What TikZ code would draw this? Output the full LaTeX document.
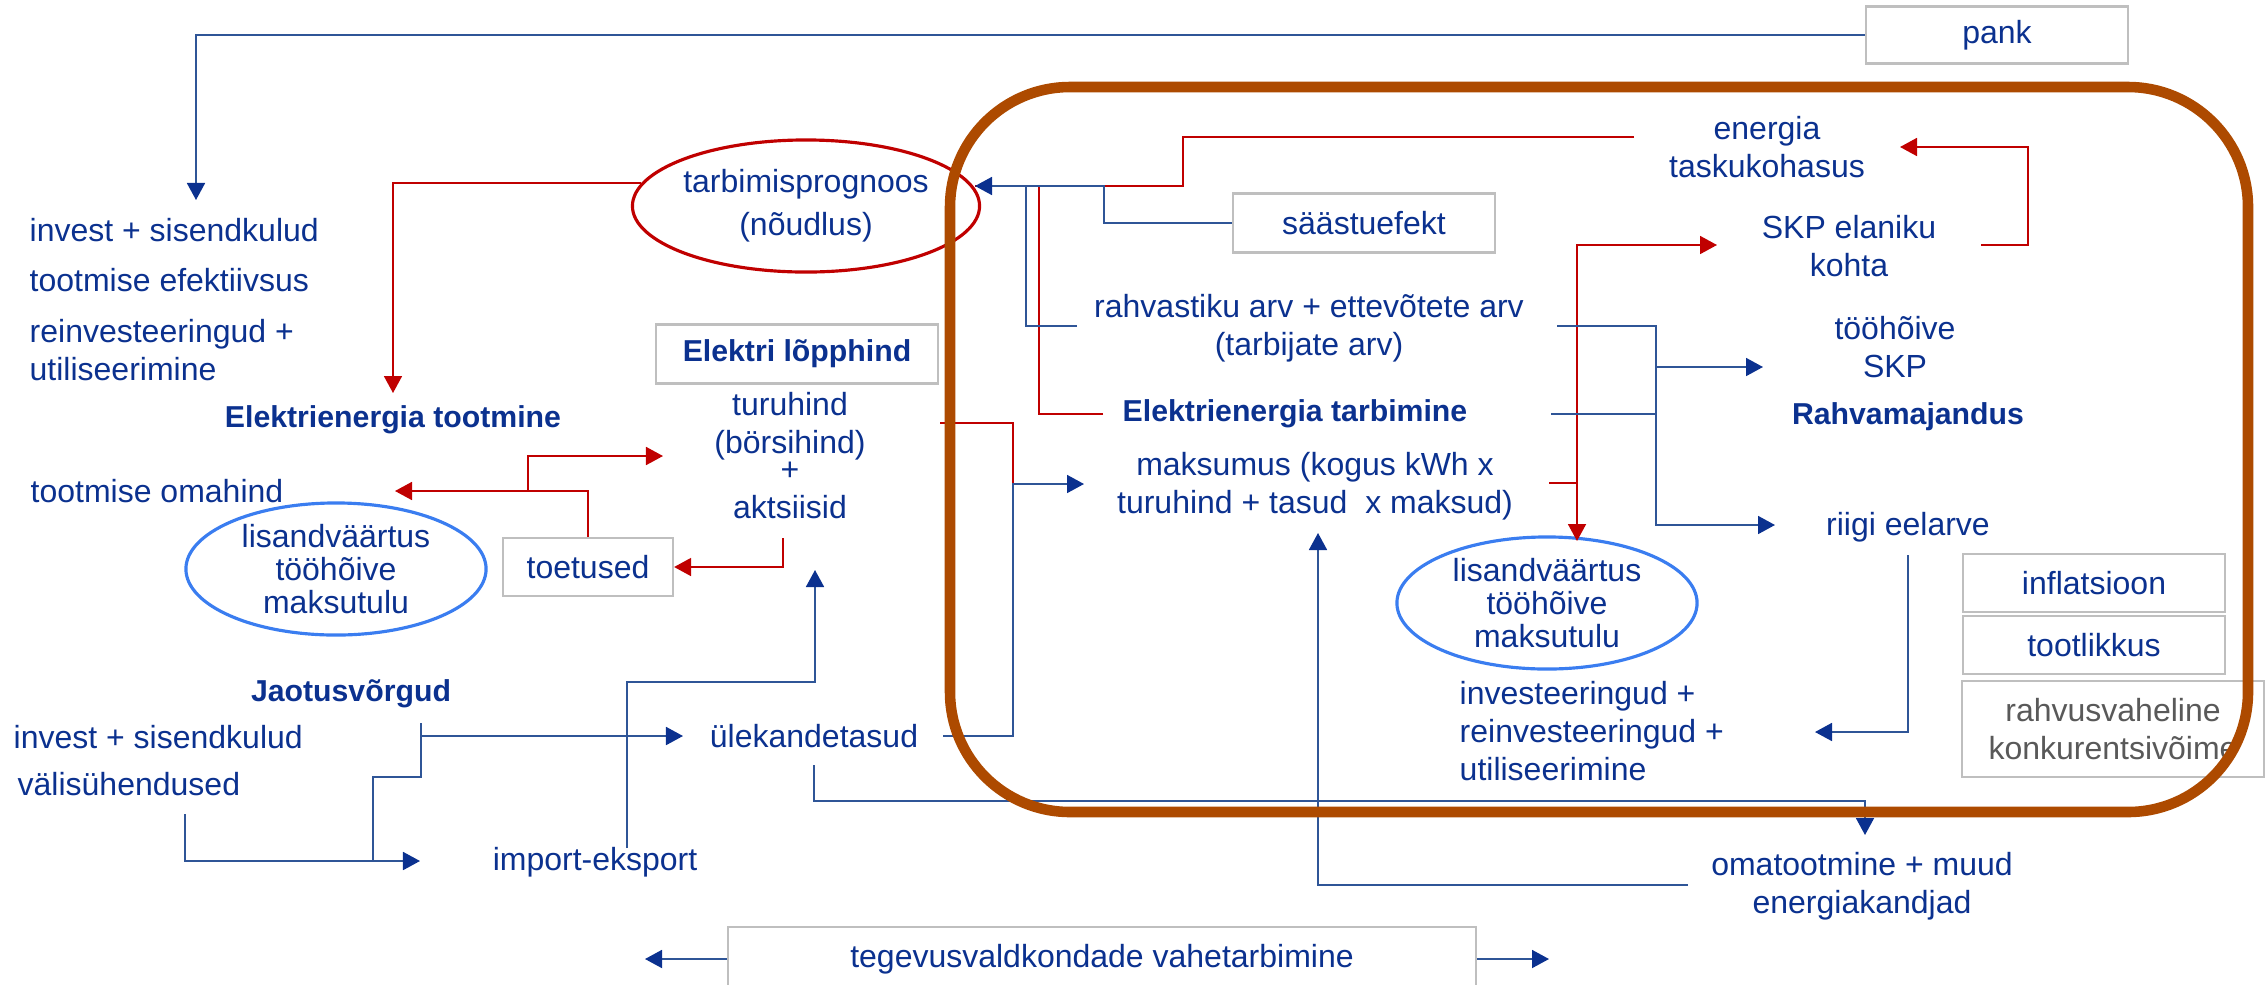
\documentclass[tikz,border=0pt]{standalone}
\usepackage{fontspec}
\setmainfont{Liberation Sans}
\usetikzlibrary{arrows.meta,shapes.geometric}
\definecolor{tblue}{HTML}{0B318F}
\definecolor{lblue}{HTML}{2F5597}
\definecolor{lred}{HTML}{C00000}
\definecolor{cblue}{HTML}{3A7DF0}
\definecolor{brownframe}{HTML}{AD4A00}
\definecolor{gline}{HTML}{BFBFBF}
\definecolor{gtext}{HTML}{595959}

\begin{document}
\begin{tikzpicture}[x=0.01cm, y=-0.01cm,
    every node/.style={font=\fontsize{9.1}{10.8}\selectfont, text=tblue, align=center, inner sep=0pt},
    hd/.style={font=\fontsize{8.6}{10.8}\selectfont\bfseries},
    gbox/.style={draw=gline, line width=0.6pt, fill=white},
    oval/.style={ellipse, line width=0.9pt, minimum width=3cm, minimum height=1.32cm},
    bl/.style={draw=lblue, line width=0.5pt},
    rl/.style={draw=lred, line width=0.5pt},
    ba/.style={bl, -{Triangle[length=1.7mm, width=1.8mm, color=tblue]}},
    ra/.style={rl, -{Triangle[length=1.7mm, width=1.8mm]}}]
            \useasboundingbox (0,0) rectangle (2266,984);

            \node[gbox, minimum width=2.62cm, minimum height=0.57cm] (pank) at (1997,35) {pank};
            \node[oval, draw=lred, font=\fontsize{9.1}{12.2}\selectfont] (tarb) at (806,206) {tarbimisprognoos\\(nõudlus)};
            \node[gbox, minimum width=2.62cm, minimum height=0.59cm] (saast) at (1364,223) {säästuefekt};
            \node (energia) at (1767,147) {energia\\taskukohasus};
            \node (skpel) at (1849,246) {SKP elaniku\\kohta};
            \node (rahv) at (1309,328) {rahvastiku arv + ettevõtete arv\\(tarbijate arv)};
            \node (tooh) at (1895,347) {tööhõive\\SKP};
            \node[hd] (rmaj) at (1908,417) {Rahvamajandus};
            \node[hd] (tarbimine) at (1295,414) {Elektrienergia tarbimine};
            \node (maks) at (1315,486) {maksumus (kogus kWh x\\turuhind + tasud\ \ x maksud)};
            \node (riigi) at (1908,527) {riigi eelarve};
            \node[oval, draw=cblue, font=\fontsize{9.1}{9.5}\selectfont] (lis2) at (1547,603) {lisandväärtus\\tööhõive\\maksutulu};
            \node[anchor=west, align=left] (invest2) at (1459,731) {investeeringud +\\reinvesteeringud +\\utiliseerimine};
            \node[gbox, minimum width=2.62cm, minimum height=0.58cm] (infl) at (2094,583) {inflatsioon};
            \node[gbox, minimum width=2.62cm, minimum height=0.58cm] (tootl) at (2094,645) {tootlikkus};
            \node[gbox, minimum width=3.01cm, minimum height=0.96cm, text=gtext] (konk) at (2113,729) {rahvusvaheline\\konkurentsivõime};

            \node[gbox, hd, minimum width=2.82cm, minimum height=0.59cm] (lopp) at (797,354) {Elektri lõpphind};
            \node (turu) at (790,456) {turuhind\\(börsihind)\\[-3.1pt]+\\aktsiisid};
            \node[gbox, minimum width=1.7cm, minimum height=0.58cm] (toet) at (588,567) {toetused};
            \node[anchor=west] (omahind) at (30,491) {tootmise omahind};
            \node[oval, draw=cblue, font=\fontsize{9.1}{9.5}\selectfont] (lis1) at (336,569) {lisandväärtus\\tööhõive\\maksutulu};
            \node[hd] (tootmine) at (393,420) {Elektrienergia tootmine};
            \node[anchor=west] (invest1) at (29,230) {invest + sisendkulud};
            \node[anchor=west] (efekt) at (29,280) {tootmise efektiivsus};
            \node[anchor=west, align=left] (reinv) at (29,350) {reinvesteeringud +\\utiliseerimine};
            \node[hd] (jaotus) at (351,694) {Jaotusvõrgud};
            \node[anchor=west] (invest3) at (13,737) {invest + sisendkulud};
            \node[anchor=west] (valis) at (17,784) {välisühendused};
            \node (import) at (595,862) {import-eksport};
            \node (ulek) at (814,736) {ülekandetasud};
            \node (omat) at (1862,886) {omatootmine + muud\\energiakandjad};
            \node[gbox, minimum width=7.48cm, minimum height=0.64cm] (vahe) at (1102,959) {tegevusvaldkondade vahetarbimine};

            \coordinate (pankT) at (196,200);
            \coordinate (tootT) at (393,393);
            \coordinate (tarbT) at (975,186);
            \coordinate (enL) at (1634,137);
            \coordinate (tbL) at (1103,414);
            \coordinate (rvL) at (1077,326);
            \coordinate (skR) at (1981,245);
            \coordinate (enT) at (1900,147);
            \coordinate (mkR) at (1549,483);
            \coordinate (skT) at (1717,245);
            \coordinate (lisT) at (1577,541);
            \coordinate (rvR) at (1557,326);
            \coordinate (tbR) at (1551,414);
            \coordinate (toohT) at (1763,367);
            \coordinate (riigiT) at (1775,525);
            \coordinate (tuR) at (940,423);
            \coordinate (ulR) at (943,736);
            \coordinate (mkT) at (1084,484);
            \coordinate (omL) at (1688,885);
            \coordinate (mkB) at (1318,533);
            \coordinate (riB) at (1908,555);
            \coordinate (ivT) at (1815,732);
            \coordinate (tuB) at (783,538);
            \coordinate (omT) at (395,491);
            \coordinate (tuT) at (663,456);
            \coordinate (jvR) at (421,723);
            \coordinate (ulT) at (683,736);
            \coordinate (vsB) at (185,814);
            \coordinate (imT) at (420,861);
            \coordinate (imU) at (627,848);
            \coordinate (tuU) at (815,570);
            \coordinate (ulB) at (814,765);
            \coordinate (omT2) at (1865,835);
            \coordinate (vhL) at (645,959);
            \coordinate (vhR) at (1549,959);

            \draw[ba] (pank.west) -| (pankT);
            \draw[ra] (tarb.172) -| (tootT);

            \draw[rl] (enL) -- (1183,137) |- (tarbT);
            \draw[rl] (tbL) -| (1039,186);
            \draw[bl] (rvL) -| (1026,186);
            \draw[ba] (saast.west) -| (1104,186) -- (tarbT);

            \draw[ra] (skR) -- (2028,245) |- (enT);
            \draw[ra] (mkR) -| (1577,245) -- (skT);
            \draw[ra] (1577,483) -- (lisT);

            \draw[ba] (rvR) -| (1656,525) -- (riigiT);
            \draw[bl] (tbR) -- (1656,414);
            \draw[ba] (1656,367) -- (toohT);

            \draw[rl] (tuR) -| (1013,484);
            \draw[ba] (ulR) -| (1013,484) -- (mkT);
            \draw[ba] (omL) -| (mkB);
            \draw[ba] (riB) |- (ivT);

            \draw[ra] (tuB) |- (toet.east);
            \draw[ra] (toet.north) |- (omT);
            \draw[ra] (528,491) |- (tuT);

            \draw[bl] (jvR) -- (421,777) -| (373,861);
            \draw[ba] (421,736) -- (ulT);
            \draw[ba] (vsB) |- (imT);
            \draw[ba] (imU) |- (815,682) -- (tuU);
            \draw[ba] (ulB) |- (1865,801) -- (omT2);

            \draw[ba] (vahe.west) -- (vhL);
            \draw[ba] (vahe.east) -- (vhR);

            \draw[brownframe, line width=3pt, rounded corners=1.2cm] (950,87) rectangle (2248,812);
        \end{tikzpicture}
\end{document}
